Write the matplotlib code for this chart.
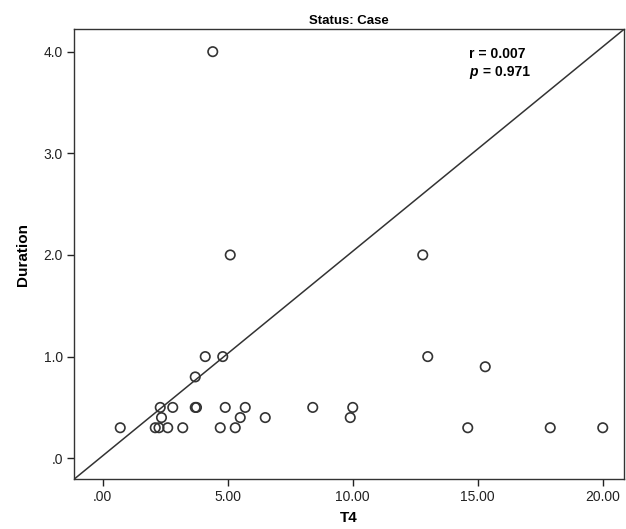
import matplotlib
matplotlib.use("Agg")
import matplotlib.pyplot as plt

plt.rcParams['font.family'] = ['Liberation Sans', 'DejaVu Sans']

# Data
t4 = [4.4, 5.1, 12.8, 4.1, 4.8, 13.0, 3.7, 15.3,
      2.3, 2.8, 3.7, 3.75, 4.9, 5.7, 8.4, 10.0,
      2.35, 5.5, 6.5, 9.9,
      0.7, 2.1, 2.25, 2.6, 3.2, 4.7, 5.3, 14.6, 17.9, 20.0]
duration = [4.0, 2.0, 2.0, 1.0, 1.0, 1.0, 0.8, 0.9,
            0.5, 0.5, 0.5, 0.5, 0.5, 0.5, 0.5, 0.5,
            0.4, 0.4, 0.4, 0.4,
            0.3, 0.3, 0.3, 0.3, 0.3, 0.3, 0.3, 0.3, 0.3, 0.3]
x_ticks = [0, 5, 10, 15, 20]
x_tick_labels = ['.00', '5.00', '10.00', '15.00', '20.00']
y_ticks = [0, 1, 2, 3, 4]
y_tick_labels = ['.0', '1.0', '2.0', '3.0', '4.0']
title = 'Status: Case'
r_text = 'r = 0.007'
p_value = '0.971'

fig = plt.figure(figsize=(6.26, 5.29), dpi=100)
ax = fig.add_axes([0.1182, 0.094, 0.8786, 0.8506])

ax.scatter(t4, duration, s=46, facecolors='none', edgecolors='#333333',
           linewidths=1.2, zorder=3)
ax.plot([0, 1], [0, 1], transform=ax.transAxes, color='#333333', lw=1.1, zorder=2)

ax.set_xlim(-1.15, 20.85)
ax.set_ylim(-0.207, 4.22)
ax.set_xticks(x_ticks)
ax.set_xticklabels(x_tick_labels)
ax.set_yticks(y_ticks)
ax.set_yticklabels(y_tick_labels)
ax.tick_params(direction='out', length=5, width=1, labelsize=10, colors='#222222', pad=3)
for s in ax.spines.values():
    s.set_linewidth(1.0)
    s.set_color('#333333')

ax.set_xlabel('T4', fontsize=11, fontweight='bold', labelpad=5)
ax.set_ylabel('Duration', fontsize=11, fontweight='bold', labelpad=10)
ax.set_title(title, fontsize=9.5, fontweight='bold', pad=4)

ax.text(0.718, 0.945, r_text, transform=ax.transAxes, fontsize=10, fontweight='bold',
        va='center', ha='left')
ax.text(0.718, 0.905, 'p', transform=ax.transAxes, fontsize=10, fontweight='bold',
        fontstyle='italic', va='center', ha='left')
ax.text(0.736, 0.905, ' = ' + p_value, transform=ax.transAxes, fontsize=10,
        fontweight='bold', va='center', ha='left')

fig.savefig('out.png', dpi=100)
